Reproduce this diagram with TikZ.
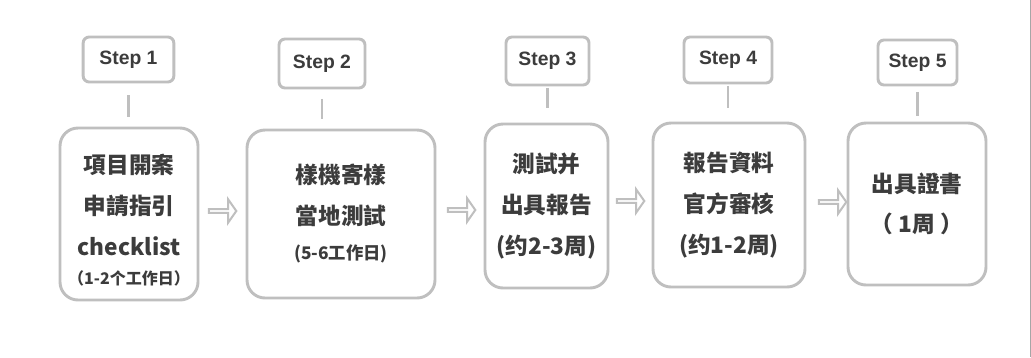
\documentclass[tikz,border=0pt]{standalone}
\usepackage{fontspec}
\setmainfont{Noto Sans CJK TC}
\newfontfamily\stepfont{Liberation Sans}
\usetikzlibrary{shapes.arrows}

\definecolor{boxgray}{HTML}{BFBFBF}
\definecolor{txtgray}{HTML}{3C3C3C}
\definecolor{edgegray}{HTML}{A6A6A6}

\begin{document}
\begin{tikzpicture}[x=0.75pt, y=-0.75pt,
    stepbox/.style={rectangle, draw=boxgray, line width=2.2pt, rounded corners=4.5pt, fill=white, text=txtgray, font=\stepfont\bfseries\fontsize{14.5}{16}\selectfont, inner sep=0pt},
    mainbox/.style={rectangle, draw=boxgray, line width=2.2pt, rounded corners=13.5pt, fill=white, text=txtgray, align=center, font=\bfseries\fontsize{17}{30.5}\selectfont, inner sep=0pt},
    link/.style={draw=boxgray, line width=2.2pt},
    flowarrow/.style={single arrow, draw=boxgray, line width=1.5pt, fill=white, minimum height=20.5pt, minimum width=17.5pt, single arrow head extend=4pt, single arrow tip angle=110, inner sep=0pt}
]
\useasboundingbox (0,0) rectangle (1031,357);

% step labels
\node[stepbox, minimum width=68pt, minimum height=33.75pt] (step1) at (128.5,59.5) {Step 1};
\node[stepbox, minimum width=64.5pt, minimum height=36.75pt] (step2) at (322,63.5) {Step 2};
\node[stepbox, minimum width=62.25pt, minimum height=36pt] (step3) at (547.5,61) {Step 3};
\node[stepbox, minimum width=66pt, minimum height=34.5pt] (step4) at (728,60) {Step 4};
\node[stepbox, minimum width=59.25pt, minimum height=33.75pt] (step5) at (917.5,62.5) {Step 5};

% stages
\node[mainbox, minimum width=103.5pt, minimum height=129pt] (main1) at (129,214) {\rule{0pt}{24pt}項目開案\\申請指引\\checklist\\[-8.5pt]{\fontsize{12}{14}\selectfont （1-2个工作日）}};
\node[mainbox, minimum width=141pt, minimum height=126pt] (main2) at (341,214) {樣機寄樣\\當地測試\\[-4pt]{\fontsize{13}{16}\selectfont (5-6工作日)}};
\node[mainbox, minimum width=92.25pt, minimum height=123pt] (main3) at (546.5,206) {測試并\\出具報告\\(约2-3周)};
\node[mainbox, minimum width=114pt, minimum height=123pt] (main4) at (729,205) {報告資料\\官方審核\\(约1-2周)};
\node[mainbox, minimum width=103.5pt, minimum height=121.5pt] (main5) at (917,204) {出具證書\\（ 1周 ）};

% ticks between step label and stage
\draw[link, shorten <=9pt, shorten >=7pt] (step1.south) -- (step1.south |- main1.north);
\draw[link, shorten <=7pt, shorten >=7pt] (step2.south) -- (step2.south |- main2.north);
\draw[link, shorten <=1pt, shorten >=11pt] (step3.south) -- (step3.south |- main3.north);
\draw[link, shorten <=1pt, shorten >=10pt] (step4.south) -- (step4.south |- main4.north);
\draw[link, shorten <=4pt, shorten >=4pt] (step5.south) -- (step5.south |- main5.north);

% arrows
\node[flowarrow] (arr1) at (222,211) {};
\node[flowarrow] (arr2) at (461,210) {};
\node[flowarrow] (arr3) at (630,201) {};
\node[flowarrow] (arr4) at (832,202) {};

\draw[edgegray, line width=0.75pt] (1030,0) -- (1030,357);
\end{tikzpicture}
\end{document}
